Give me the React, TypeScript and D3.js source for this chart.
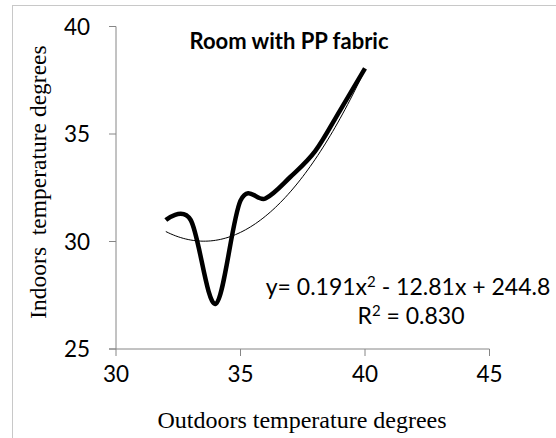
import React from 'react';
import * as d3 from 'd3';

// outdoor temperature (x) and indoor temperature (y)
const outdoorTemps = [32, 33, 34, 35, 36, 37, 38, 39, 40];
const indoorTemps = [31.0, 31.0, 27.1, 31.9, 32.0, 33.0, 34.2, 36.1, 38.05];

// polynomial trendline as printed on the chart
const trendCoef = [0.191, -12.81, 244.8];
const trendLabel = ['y= 0.191x', '2', ' - 12.81x + 244.8'];
const r2Label = ['R', '2', ' = 0.830'];

const xTicks = [30, 35, 40, 45];
const yTicks = [25, 30, 35, 40];

const tickFont = 'Lato, "Open Sans", sans-serif';
const serif = '"Liberation Serif", "Times New Roman", serif';
const axisColor = '#868686';

const App = () => {
  const width = 556;
  const height = 438;

  const x = d3.scaleLinear().domain([30, 45]).range([116, 489.5]);
  const y = d3.scaleLinear().domain([25, 40]).range([349, 26.5]);

  const pts = outdoorTemps.map((d, i) => [x(d), y(indoorTemps[i])]);
  const smooth = d3.line().curve(d3.curveCardinal.tension(0));

  const trendX = d3.range(32, 40.001, 0.1);
  const trendPts = trendX.map(v => [
    x(v),
    y(trendCoef[0] * v * v + trendCoef[1] * v + trendCoef[2]),
  ]);
  const straight = d3.line();

  return (
    <svg
      width={width}
      height={height}
      style={{position: 'absolute', left: 0, top: 0, background: '#fff'}}>
      <rect x={12.5} y={5.5} width={560} height={450} fill="none" stroke="#c8c8c8" />

      {/* axes */}
      <line x1={x(30)} x2={x(30)} y1={y(40)} y2={y(25)} stroke={axisColor} />
      <line x1={x(30) - 7} x2={x(45)} y1={y(25)} y2={y(25)} stroke={axisColor} />
      {yTicks.map(t => (
        <g key={'y' + t}>
          <line x1={x(30) - 7} x2={x(30)} y1={y(t)} y2={y(t)} stroke={axisColor} />
          <text
            x={90}
            y={y(t)}
            dy="0.36em"
            textAnchor="end"
            fontFamily={tickFont}
            fontSize={22.5}
            fill="#000">
            {t}
          </text>
        </g>
      ))}
      {xTicks.map(t => (
        <g key={'x' + t}>
          <line x1={x(t)} x2={x(t)} y1={y(25)} y2={y(25) + 7} stroke={axisColor} />
          <text
            x={x(t)}
            y={382}
            textAnchor="middle"
            fontFamily={tickFont}
            fontSize={22.5}
            fill="#000">
            {t}
          </text>
        </g>
      ))}

      {/* trendline + data */}
      <path d={straight(trendPts)} fill="none" stroke="#000" strokeWidth={1} />
      <path
        d={smooth(pts)}
        fill="none"
        stroke="#000"
        strokeWidth={4.5}
        strokeLinejoin="round"
      />

      {/* title */}
      <text
        x={289}
        y={49}
        textAnchor="middle"
        fontFamily={tickFont}
        fontWeight="bold"
        fontSize={22}
        fill="#000">
        Room with PP fabric
      </text>

      {/* equation */}
      <text x={408} y={295} textAnchor="middle" fontFamily={tickFont} fontSize={23} fill="#000">
        {trendLabel[0]}
        <tspan dy={-8} fontSize={15}>{trendLabel[1]}</tspan>
        <tspan dy={8}>{trendLabel[2]}</tspan>
      </text>
      <text x={411} y={324} textAnchor="middle" fontFamily={tickFont} fontSize={23} fill="#000">
        {r2Label[0]}
        <tspan dy={-8} fontSize={15}>{r2Label[1]}</tspan>
        <tspan dy={8}>{r2Label[2]}</tspan>
      </text>

      {/* axis titles */}
      <text
        x={302}
        y={428}
        textAnchor="middle"
        fontFamily={serif}
        fontSize={24}
        fill="#000">
        Outdoors temperature degrees
      </text>
      <text
        transform="translate(46,182) rotate(-90)"
        textAnchor="middle"
        fontFamily={serif}
        fontSize={23.5}
        fill="#000"
        style={{whiteSpace: 'pre'}}>
        {'Indoors  temperature degrees'}
      </text>
    </svg>
  );
};

export default App;
